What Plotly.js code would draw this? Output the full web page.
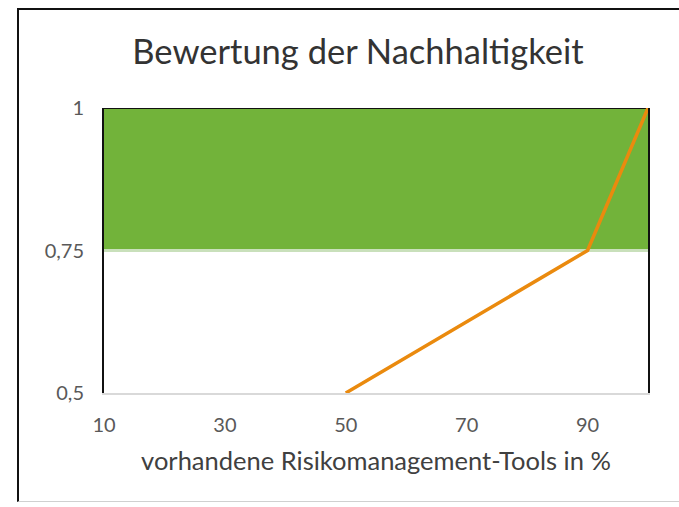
<!DOCTYPE html>
<html>
<head>
<meta charset="utf-8">
<script src="https://cdn.plot.ly/plotly-3.0.1.min.js"></script>
<style>
  html, body { margin: 0; padding: 0; background: #ffffff; }
  #wrap { position: relative; width: 679px; height: 507px; overflow: hidden; }
  #frame { position: absolute; left: 17px; top: 8px; width: 680px; height: 494px;
           border-left: 2px solid #111; border-top: 2px solid #111; border-bottom: 1px solid #d0d0d0; box-sizing: border-box; }
  #chart { position: absolute; left: 0; top: 0; width: 679px; height: 507px; }
</style>
</head>
<body>
<div id="wrap">
  <div id="frame"></div>
  <div id="chart"></div>
</div>
<script>
// Data
const lineX = [50, 90, 100];
const lineY = [0.5, 0.75, 1];
const bandX = [10, 100];
const bandLower = [0.75, 0.75];
const bandUpper = [1, 1];
const xTickVals = [10, 30, 50, 70, 90];
const xTickText = ['10', '30', '50', '70', '90'];
const yTickVals = [0.5, 0.75, 1];
const yTickText = ['0,5', '0,75', '1'];

const font = 'Lato, "Open Sans", sans-serif';

const traces = [
  { x: bandX, y: bandLower, mode: 'lines', line: { color: '#c9e0bb', width: 3 },
    hoverinfo: 'skip', showlegend: false },
  { x: bandX, y: bandUpper, mode: 'lines', fill: 'tonexty', fillcolor: '#72b33a',
    line: { color: '#111111', width: 2 }, hoverinfo: 'skip', showlegend: false },
  { x: lineX, y: lineY, mode: 'lines', line: { color: '#ea8a0e', width: 3.5 }, showlegend: false }
];

const layout = {
  width: 679, height: 507,
  paper_bgcolor: 'rgba(0,0,0,0)', plot_bgcolor: 'rgba(0,0,0,0)',
  margin: { l: 104, r: 31, t: 108, b: 114 },
  separators: ',.',
  font: { family: font, color: '#595959', size: 20 },
  title: { text: 'Bewertung der Nachhaltigkeit', font: { family: font, size: 34.5, color: '#333333' },
           x: 358 / 679, xanchor: 'center', y: 1 - 52 / 507, yanchor: 'middle', yref: 'container' },
  xaxis: {
    range: [10, 100], tickvals: xTickVals, ticktext: xTickText,
    showgrid: false, zeroline: false,
    showline: true, linecolor: '#d9d9d9', linewidth: 2,
    ticks: 'outside', ticklen: 13, tickcolor: 'rgba(0,0,0,0)',
    tickfont: { size: 20, color: '#595959' },
    title: { text: 'vorhandene Risikomanagement-Tools in %', font: { size: 25.5, color: '#404040' }, standoff: 17 }
  },
  yaxis: {
    range: [0.5, 1], tickvals: yTickVals, ticktext: yTickText,
    showgrid: false, zeroline: false,
    showline: true, linecolor: '#111111', linewidth: 2, mirror: true,
    ticks: 'outside', ticklen: 14, tickcolor: 'rgba(0,0,0,0)',
    tickfont: { size: 20, color: '#595959' }
  }
};

Plotly.newPlot('chart', traces, layout, { staticPlot: true, displayModeBar: false });
</script>
</body>
</html>
